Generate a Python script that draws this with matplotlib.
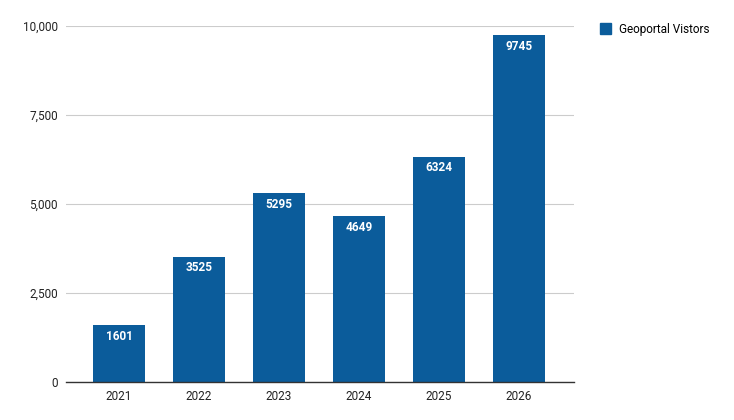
import matplotlib.pyplot as plt
from matplotlib.ticker import FuncFormatter, MultipleLocator
from matplotlib.patches import Patch

years = ["2021", "2022", "2023", "2024", "2025", "2026"]
visitors = [1601, 3525, 5295, 4649, 6324, 9745]
series_name = "Geoportal Vistors"

bar_color = "#0b5c9b"
plt.rcParams['font.family'] = ['Roboto', 'DejaVu Sans']

fig = plt.figure(figsize=(7.34, 4.2), dpi=100)
ax = fig.add_axes([66 / 734, 38 / 420, 508 / 734, 356 / 420])

x = list(range(len(years)))
bars = ax.bar(x, visitors, width=0.65, color=bar_color, zorder=3)

for xi, v in zip(x, visitors):
    ax.annotate(str(v), (xi, v), xytext=(0, -8), textcoords='offset points',
                ha='center', va='center', color='white', fontsize=8.5,
                fontweight='bold', zorder=4)

ax.set_xlim(-0.6625, 5.6875)
ax.set_ylim(0, 10000)
ax.yaxis.set_major_locator(MultipleLocator(2500))
ax.yaxis.set_major_formatter(FuncFormatter(lambda v, p: f"{int(v):,}"))
ax.set_xticks(x)
ax.set_xticklabels(years)

ax.grid(axis='y', color='#cccccc', linewidth=0.8, zorder=0)
for s in ['top', 'right', 'left']:
    ax.spines[s].set_visible(False)
ax.spines['bottom'].set_color('#333333')
ax.spines['bottom'].set_linewidth(1.0)
ax.spines['bottom'].set_zorder(5)
ax.tick_params(axis='both', length=0, labelsize=8.5, colors='#222222')
ax.tick_params(axis='y', pad=6)
ax.tick_params(axis='x', pad=6)

fig.legend(handles=[Patch(color=bar_color, label=series_name)],
           loc='upper left', bbox_to_anchor=(589 / 734, 1 - 12 / 420),
           frameon=False, fontsize=8.5, handlelength=0.95, handleheight=0.95,
           handletextpad=0.7)

fig.savefig("out.png", dpi=100)
